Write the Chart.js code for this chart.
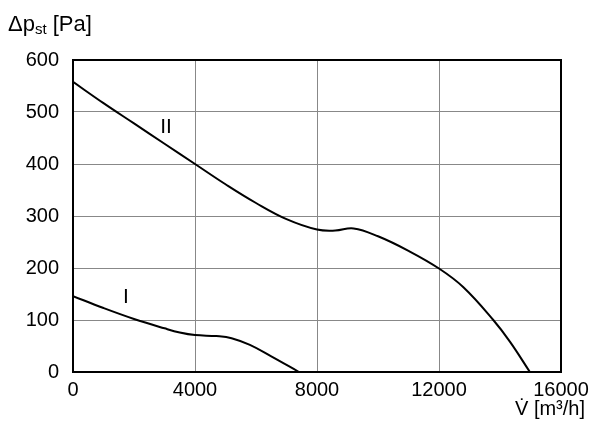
<!DOCTYPE html>
<html>
<head>
<meta charset="utf-8">
<script src="https://cdn.jsdelivr.net/npm/chart.js@4/dist/chart.umd.min.js"></script>
<style>
  html, body { margin: 0; padding: 0; background: #fff; }
  #wrap { width: 600px; height: 434px; position: relative; }
</style>
</head>
<body>
<div id="wrap"><canvas id="c" width="600" height="434"></canvas></div>
<script>
// ---- data ----
const curveIx  = [0, 1000, 2000, 3000, 3500, 4000, 4700, 5200, 5800, 6500, 7410];
const curveIy  = [146, 123, 102, 84, 76, 71, 69, 65, 52, 30, 0];
const curveIIx = [0, 1000, 2000, 3000, 4000, 5000, 6000, 7000, 8000, 8600, 9200, 10000, 11000, 12000, 12800, 13780, 14330, 14980];
const curveIIy = [558, 517, 478, 439, 400, 361, 325, 294, 274, 272, 276, 261, 233, 199, 163, 100, 58, 0];
const xTicks = [0, 4000, 8000, 12000, 16000];
const yTicks = [0, 100, 200, 300, 400, 500, 600];
const curveNames = ["I", "II"];
const curveLabelX = [1737, 3050];
const curveLabelY = [144, 471];
const yTitle = ["Δp", "st", " [Pa]"];
const xTitle = "V̇ [m³/h]";

const FONT = "'Liberation Sans', Arial, sans-serif";

function pts(xs, ys) { return xs.map((x, i) => ({ x: x, y: ys[i] })); }

const decor = {
  id: 'decor',
  afterDraw(chart) {
    const ctx = chart.ctx, a = chart.chartArea;
    const xs = chart.scales.x, ys = chart.scales.y;
    ctx.save();
    // frame
    ctx.strokeStyle = '#000';
    ctx.lineWidth = 2;
    ctx.strokeRect(a.left, a.top, a.right - a.left, a.bottom - a.top);
    // curve names
    ctx.fillStyle = '#000';
    ctx.font = '21px ' + FONT;
    ctx.textAlign = 'center';
    ctx.textBaseline = 'middle';
    curveNames.forEach((n, i) => {
      ctx.fillText(n, xs.getPixelForValue(curveLabelX[i]), ys.getPixelForValue(curveLabelY[i]));
    });
    // y title
    ctx.textAlign = 'left';
    ctx.textBaseline = 'alphabetic';
    let x = 8;
    ctx.font = '22px ' + FONT;
    ctx.fillText(yTitle[0], x, 31);
    x += ctx.measureText(yTitle[0]).width;
    ctx.font = '15px ' + FONT;
    ctx.fillText(yTitle[1], x, 34);
    x += ctx.measureText(yTitle[1]).width;
    ctx.font = '22px ' + FONT;
    ctx.fillText(yTitle[2], x, 31);
    // x title
    ctx.font = '20px ' + FONT;
    ctx.textAlign = 'right';
    ctx.fillText(xTitle, 585, 415);
    ctx.restore();
  }
};

new Chart(document.getElementById('c'), {
  type: 'scatter',
  data: {
    datasets: [
      { label: curveNames[0], data: pts(curveIx, curveIy) },
      { label: curveNames[1], data: pts(curveIIx, curveIIy) }
    ].map(d => Object.assign(d, {
      showLine: true, borderColor: '#000', borderWidth: 2, pointRadius: 0,
      tension: 0.4, fill: false
    }))
  },
  options: {
    responsive: false,
    animation: false,
    events: [],
    layout: { padding: { top: 60, right: 39, left: 0, bottom: 0 } },
    plugins: { legend: { display: false }, tooltip: { enabled: false } },
    scales: {
      x: {
        type: 'linear', min: 0, max: 16000,
        afterBuildTicks: s => { s.ticks = xTicks.map(v => ({ value: v })); },
        afterFit: s => { s.height = 62; },
        ticks: { color: '#000', font: { family: FONT, size: 20 }, padding: 6, maxRotation: 0,
                 callback: v => String(v) },
        grid: { color: '#888', lineWidth: 1, drawTicks: false },
        border: { display: true, color: '#000', width: 2 }
      },
      y: {
        type: 'linear', min: 0, max: 600,
        afterBuildTicks: s => { s.ticks = yTicks.map(v => ({ value: v })); },
        afterFit: s => { s.width = 73; },
        ticks: { color: '#000', font: { family: FONT, size: 20 }, padding: 14,
                 callback: v => String(v) },
        grid: { color: '#888', lineWidth: 1, drawTicks: false },
        border: { display: true, color: '#000', width: 2 }
      }
    }
  },
  plugins: [decor]
});
</script>
</body>
</html>
